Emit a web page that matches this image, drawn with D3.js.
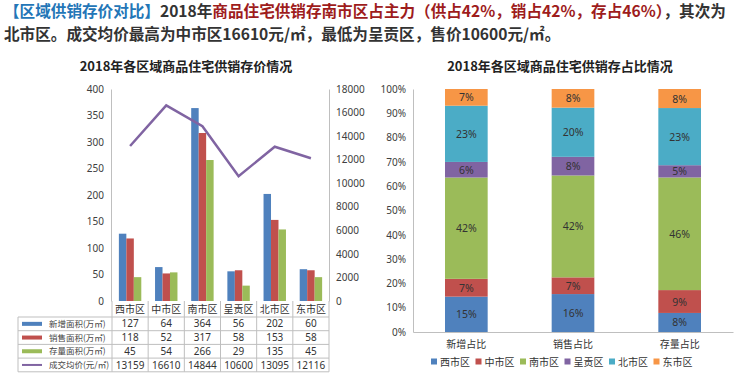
<!DOCTYPE html>
<html>
<head>
<meta charset="utf-8">
<script src="https://cdn.jsdelivr.net/npm/d3@7"></script>
<style>
  html, body { margin: 0; padding: 0; background: #fff; }
  svg text { font-family: "Noto Sans CJK SC", "Noto Sans", sans-serif; }
</style>
</head>
<body>
<div id="svg-container"></div>
<script>
(function () {
  // ---- data ----
  var districts = ['西市区', '中市区', '南市区', '呈贡区', '北市区', '东市区'];
  var seriesNames = ['新增面积(万㎡)', '销售面积(万㎡)', '存量面积(万㎡)'];
  var priceName = '成交均价(元/㎡)';
  var newArea = [127, 64, 364, 56, 202, 60];
  var soldArea = [118, 52, 317, 58, 153, 58];
  var stockArea = [45, 54, 266, 29, 135, 45];
  var avgPrice = [13159, 16610, 14844, 10600, 13095, 12116];
  var areaTicks = [0, 50, 100, 150, 200, 250, 300, 350, 400];
  var priceTicks = [0, 2000, 4000, 6000, 8000, 10000, 12000, 14000, 16000, 18000];

  var shareCats = ['新增占比', '销售占比', '存量占比'];
  // share labels as printed on the bars (西, 中, 南, 呈贡, 北, 东)
  var shareLabels = [
    [15, 7, 42, 6, 23, 7],
    [16, 7, 42, 8, 20, 8],
    [8, 9, 46, 5, 23, 8]
  ];
  var pctTicks = [0, 0.1, 0.2, 0.3, 0.4, 0.5, 0.6, 0.7, 0.8, 0.9, 1];

  var barColors = ['#4F81BD', '#C0504D', '#9BBB59'];
  var lineColor = '#8064A2';
  var distColors = ['#4F81BD', '#C0504D', '#9BBB59', '#8064A2', '#4BACC6', '#F79646'];
  var axisColor = '#BFBFBF', textColor = '#404040';

  var width = 740, height = 381;
  var svg = d3.select('#svg-container')
    .append('svg')
    .attr('width', width)
    .attr('height', height)
    .attr('viewBox', '0 0 ' + width + ' ' + height);

  // ---- header text ----
  var head = svg.append('g')
    .attr('font-size', 15.6)
    .attr('font-weight', 'bold');
  var l1 = head.append('text').attr('x', 4).attr('y', 17);
  l1.append('tspan').attr('fill', '#2376B7').text('【区域供销存价对比】');
  l1.append('tspan').attr('fill', '#333').text('2018年');
  l1.append('tspan').attr('fill', '#9E1C1C').text('商品住宅供销存南市区占主力（供占42%，销占42%，存占46%）');
  l1.append('tspan').attr('fill', '#333').text('，其次为');
  head.append('text').attr('x', 4).attr('y', 40).attr('fill', '#333')
    .text('北市区。成交均价最高为中市区16610元/㎡，最低为呈贡区，售价10600元/㎡。');

  // ---- left chart: bars + price line + data table ----
  var left = svg.append('g');
  left.append('text')
    .attr('x', 186).attr('y', 71)
    .attr('text-anchor', 'middle')
    .attr('font-size', 13).attr('font-weight', 'bold').attr('fill', '#222')
    .text('2018年各区域商品住宅供销存价情况');

  var x0 = d3.scaleBand().domain(districts).range([112, 329]);
  var bw = x0.bandwidth();
  var x1 = d3.scaleBand().domain(d3.range(3)).range([bw * 0.19, bw * 0.81]);
  var yArea = d3.scaleLinear().domain([0, 400]).range([301, 89]);
  var yPrice = d3.scaleLinear().domain([0, 18000]).range([301, 89]);

  var leftAxis = left.append('g')
    .attr('transform', 'translate(111,0)')
    .call(d3.axisLeft(yArea).tickValues(areaTicks).tickSize(0).tickPadding(7));
  var rightAxis = left.append('g')
    .attr('transform', 'translate(329,0)')
    .call(d3.axisRight(yPrice).tickValues(priceTicks).tickFormat(d3.format('d')).tickSize(0).tickPadding(7));
  [leftAxis, rightAxis].forEach(function (a) {
    a.select('.domain').attr('stroke', axisColor);
    a.selectAll('text').attr('font-size', 10).attr('fill', textColor)
      .style('font-family', '"Noto Sans", sans-serif');
  });

  var areaSeries = [newArea, soldArea, stockArea];
  var groups = left.selectAll('g.district')
    .data(districts)
    .enter().append('g')
    .attr('class', 'district')
    .attr('transform', function (d) { return 'translate(' + x0(d) + ',0)'; });
  groups.selectAll('rect')
    .data(function (d, i) { return areaSeries.map(function (s, k) { return {k: k, v: s[i]}; }); })
    .enter().append('rect')
    .attr('x', function (d) { return x1(d.k); })
    .attr('width', x1.bandwidth())
    .attr('y', function (d) { return yArea(d.v); })
    .attr('height', function (d) { return yArea(0) - yArea(d.v); })
    .attr('fill', function (d) { return barColors[d.k]; });

  var line = d3.line()
    .x(function (d, i) { return x0(districts[i]) + bw / 2; })
    .y(function (d) { return yPrice(d); });
  left.append('path')
    .datum(avgPrice)
    .attr('d', line)
    .attr('fill', 'none')
    .attr('stroke', lineColor)
    .attr('stroke-width', 2.5);

  // data table under the bars
  var tTop = 301, catRow = 16, rowH = 13.7, tLeft = 18;
  var rows = [newArea, soldArea, stockArea, avgPrice];
  var rowNames = seriesNames.concat([priceName]);
  var tBottom = tTop + catRow + rowH * rows.length;
  var table = left.append('g').attr('stroke', axisColor).attr('stroke-width', 1).attr('fill', 'none');
  // verticals
  x0.domain().forEach(function (d) {
    table.append('line').attr('x1', x0(d)).attr('x2', x0(d)).attr('y1', tTop).attr('y2', tBottom);
  });
  table.append('line').attr('x1', 329).attr('x2', 329).attr('y1', tTop).attr('y2', tBottom);
  table.append('line').attr('x1', tLeft).attr('x2', tLeft).attr('y1', tTop + catRow).attr('y2', tBottom);
  // horizontals
  d3.range(rows.length + 1).forEach(function (r) {
    var y = tTop + catRow + r * rowH;
    table.append('line').attr('x1', tLeft).attr('x2', 329).attr('y1', y).attr('y2', y);
  });

  left.selectAll('text.cat')
    .data(districts)
    .enter().append('text')
    .attr('class', 'cat')
    .attr('x', function (d) { return x0(d) + bw / 2; })
    .attr('y', tTop + catRow / 2 + 4)
    .attr('text-anchor', 'middle')
    .attr('font-size', 10).attr('fill', '#333')
    .text(function (d) { return d; });

  rows.forEach(function (vals, r) {
    var cy = tTop + catRow + r * rowH + rowH / 2;
    left.selectAll('text.v' + r)
      .data(vals)
      .enter().append('text')
      .attr('x', function (d, i) { return x0(districts[i]) + bw / 2; })
      .attr('y', cy + 3.6)
      .attr('text-anchor', 'middle')
      .attr('font-size', 10).attr('fill', '#333')
      .style('font-family', '"Noto Sans", sans-serif')
      .text(function (d) { return d; });
    if (r < 3) {
      left.append('rect').attr('x', 22).attr('y', cy - 2).attr('width', 20).attr('height', 4)
        .attr('fill', barColors[r]);
    } else {
      left.append('line').attr('x1', 22).attr('x2', 42).attr('y1', cy).attr('y2', cy)
        .attr('stroke', lineColor).attr('stroke-width', 2);
    }
    left.append('text')
      .attr('x', 49).attr('y', cy + 3.2)
      .attr('font-size', 8.5).attr('fill', '#444')
      .text(rowNames[r]);
  });

  // ---- right chart: 100% stacked columns ----
  var right = svg.append('g');
  right.append('text')
    .attr('x', 560).attr('y', 71)
    .attr('text-anchor', 'middle')
    .attr('font-size', 13).attr('font-weight', 'bold').attr('fill', '#222')
    .text('2018年各区域商品住宅供销存占比情况');

  var shareRows = shareCats.map(function (c, j) {
    var o = {cat: c};
    var src = [newArea, soldArea, stockArea][j];
    districts.forEach(function (d, i) { o[d] = src[i]; o[d + '_lbl'] = shareLabels[j][i]; });
    return o;
  });
  var stack = d3.stack().keys(districts).offset(d3.stackOffsetExpand);
  var layers = stack(shareRows);

  var xs = d3.scaleBand().domain(shareCats).range([413, 733]).paddingInner(0.6).paddingOuter(0.3);
  var yPct = d3.scaleLinear().domain([0, 1]).range([332, 89]);

  var pAxis = right.append('g')
    .attr('transform', 'translate(413,0)')
    .call(d3.axisLeft(yPct).tickValues(pctTicks).tickFormat(d3.format('.0%')).tickSize(0).tickPadding(7));
  pAxis.select('.domain').attr('stroke', axisColor);
  pAxis.selectAll('text').attr('font-size', 10).attr('fill', textColor)
    .style('font-family', '"Noto Sans", sans-serif');

  var xAxisG = right.append('g')
    .attr('transform', 'translate(0,332)')
    .call(d3.axisBottom(xs).tickSize(0).tickPadding(9));
  xAxisG.select('.domain').attr('stroke', axisColor);
  xAxisG.selectAll('text').attr('font-size', 10).attr('fill', '#333');

  var layerG = right.selectAll('g.layer')
    .data(layers)
    .enter().append('g')
    .attr('class', 'layer')
    .attr('fill', function (d, i) { return distColors[i]; });
  layerG.selectAll('rect')
    .data(function (d) { return d; })
    .enter().append('rect')
    .attr('x', function (d) { return xs(d.data.cat); })
    .attr('width', xs.bandwidth())
    .attr('y', function (d) { return yPct(d[1]); })
    .attr('height', function (d) { return yPct(d[0]) - yPct(d[1]); });
  layerG.selectAll('text')
    .data(function (d) { return d.map(function (p) { p.key = d.key; return p; }); })
    .enter().append('text')
    .attr('x', function (d) { return xs(d.data.cat) + xs.bandwidth() / 2; })
    .attr('y', function (d) { return (yPct(d[0]) + yPct(d[1])) / 2 + 4; })
    .attr('text-anchor', 'middle')
    .attr('font-size', 10.5).attr('fill', '#333')
    .style('font-family', '"Noto Sans", sans-serif')
    .text(function (d) { return d.data[d.key + '_lbl'] + '%'; });

  // legend
  var legend = right.selectAll('g.leg')
    .data(districts)
    .enter().append('g')
    .attr('class', 'leg')
    .attr('transform', function (d, i) { return 'translate(' + (431 + i * 44.5) + ',362)'; });
  legend.append('rect').attr('x', 0).attr('y', -3.5).attr('width', 6).attr('height', 6)
    .attr('fill', function (d, i) { return distColors[i]; });
  legend.append('text').attr('x', 9).attr('y', 3.5)
    .attr('font-size', 10).attr('fill', '#333')
    .text(function (d) { return d; });
}());
</script>
</body>
</html>
